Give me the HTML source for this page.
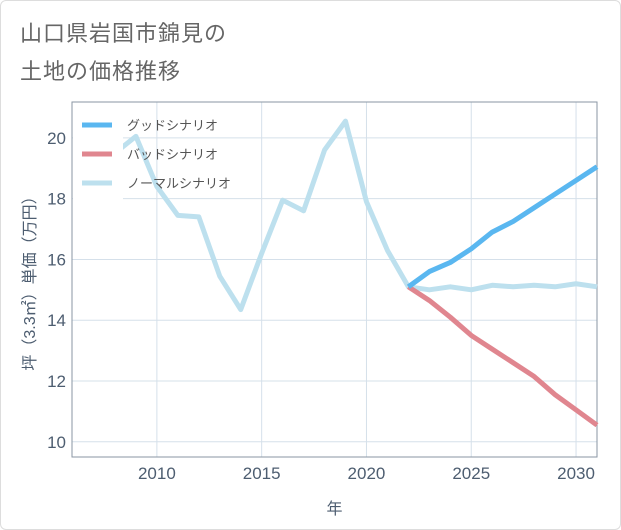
<!DOCTYPE html>
<html><head><meta charset="utf-8"><style>
body{margin:0;background:#fff;}
#card{position:absolute;left:0;top:0;width:619px;height:528px;border:1px solid #ddd;border-radius:6px;background:#fff;}
.t{position:absolute;left:19px;font:22px "Liberation Sans","Noto Sans CJK JP",sans-serif;color:#666;letter-spacing:1px;}
svg text{font-family:"Liberation Sans","Noto Sans CJK JP",sans-serif;}
</style></head><body>
<div id="card">
<div class="t" style="top:15px">山口県岩国市錦見の</div>
<div class="t" style="top:53px">土地の価格推移</div>
</div>
<svg id="chart" width="621" height="530" style="position:absolute;left:0;top:0"></svg>
<script>
const years=[2008,2009,2010,2011,2012,2013,2014,2015,2016,2017,2018,2019,2020,2021,2022,2023,2024,2025,2026,2027,2028,2029,2030,2031];
const normal=[19.5,20.05,18.4,17.45,17.4,15.45,14.35,16.2,17.95,17.6,19.6,20.55,17.9,16.3,15.1,15.0,15.1,15.0,15.15,15.1,15.15,15.1,15.2,15.1];
const fYears=[2022,2023,2024,2025,2026,2027,2028,2029,2030,2031];
const good=[15.1,15.6,15.9,16.35,16.9,17.25,17.7,18.15,18.6,19.05];
const bad=[15.1,14.65,14.1,13.5,13.05,12.6,12.15,11.55,11.05,10.55];
const xTicks=[2010,2015,2020,2025,2030];
const yTicks=[10,12,14,16,18,20];
const L=72,R=597,T=102,B=457,x0=2005.95,x1=2031,y0=9.5,y1=21.18;
const X=v=>L+(v-x0)/(x1-x0)*(R-L), Y=v=>B-(v-y0)/(y1-y0)*(B-T);
const svg=document.getElementById('chart'),NS='http://www.w3.org/2000/svg';
const TC='#4d5d70';
function mk(t,a,p){const e=document.createElementNS(NS,t);for(const k in a)e.setAttribute(k,a[k]);(p||svg).appendChild(e);return e;}
xTicks.forEach(v=>{const l=mk('line',{x1:X(v),x2:X(v),y1:T,y2:B,stroke:'#d5e0ea'});


const t=mk('text',{x:X(v),y:B+22,'text-anchor':'middle','font-size':17,fill:TC});t.textContent=v;

});
yTicks.forEach(v=>{const l=mk('line',{x1:L,x2:R,y1:Y(v),y2:Y(v),stroke:'#d5e0ea'});


const t=mk('text',{x:L-6,y:Y(v)+6,'text-anchor':'end','font-size':17,fill:TC});t.textContent=v;

});
const fr=mk('rect',{x:L,y:T,width:R-L,height:B-T,fill:'none',stroke:'#8a96a3'});


function line(xs,ys,c,n){const p=mk('polyline',{points:xs.map((x,i)=>X(x)+','+Y(ys[i])).join(' '),fill:'none',stroke:c,'stroke-width':5,'stroke-linejoin':'round'});

}
line(years,normal,'#bde0ee','normal-scenario-line');
line(fYears,bad,'#e0868f','bad-scenario-line');
line(fYears,good,'#5ab7f0','good-scenario-line');
const lg=mk('rect',{x:L+1,y:108,width:50,height:92,fill:'#fff'});


[['グッドシナリオ','#5ab7f0',125],['バッドシナリオ','#e0868f',154],['ノーマルシナリオ','#bde0ee',183]].forEach(([s,c,y])=>{
const l=mk('line',{x1:82,x2:112,y1:y,y2:y,stroke:c,'stroke-width':5});


const t=mk('text',{x:127,y:y+5,'font-size':13,fill:'#555'});t.textContent=s;

});
const xt=mk('text',{x:(L+R)/2,y:514,'text-anchor':'middle','font-size':16,fill:TC});xt.textContent='年';


const yt=mk('text',{x:0,y:0,'text-anchor':'middle','font-size':16,fill:TC,transform:'translate(35,'+((T+B)/2)+') rotate(-90)'});yt.textContent='坪（3.3㎡）単価（万円）';


</script>
</body></html>
